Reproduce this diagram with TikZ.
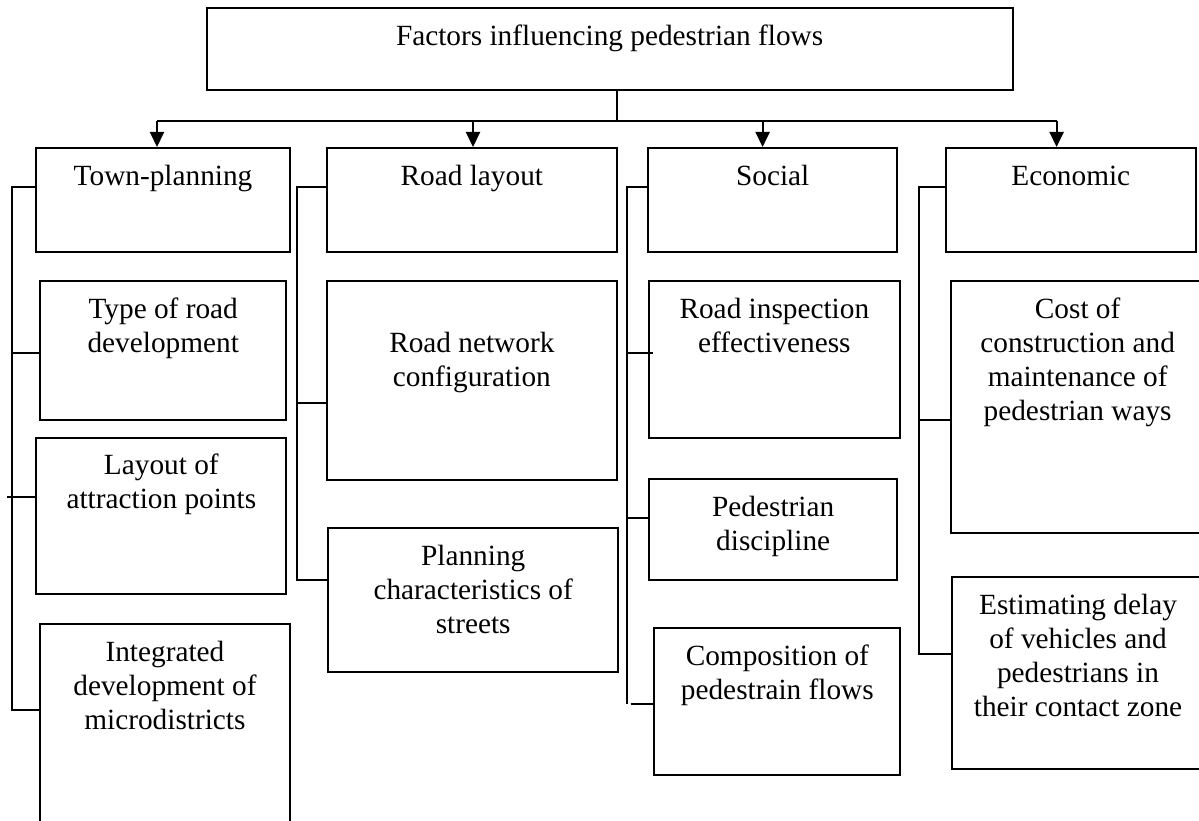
\documentclass[tikz,border=0pt]{standalone}
\usepackage{fontspec}
\setmainfont{Liberation Serif}
\usetikzlibrary{arrows.meta,fit}
\tikzset{
  boxst/.style={draw, line width=2pt, inner sep=0pt, rectangle},
  txt/.style={font=\fontsize{29.3}{34}\selectfont, align=center, inner sep=0pt, anchor=north},
  conn/.style={line width=2pt},
  arr/.style={line width=2pt, -{Triangle[length=15pt,width=14pt]}},
}
\newcommand{\kbox}[6]{%
  \node[boxst, fit={(#2,#3) (#4,#5)}] (#1) {};
  \node[txt] (#1-t) at ([yshift=-14.2pt]#1.north) {\strut #6};
}
\begin{document}
\begin{tikzpicture}[x=1pt,y=-1pt]
\useasboundingbox (0,0) rectangle (1199,821);
% title
\kbox{top}{206.7}{8.3}{1012.5}{90}{Factors influencing pedestrian flows}
% row 1
\kbox{tp}{36.4}{148}{289.7}{252}{Town-planning}
\kbox{rl}{327.2}{148}{616.5}{252}{Road layout}
\kbox{so}{648}{148}{897.4}{252}{Social}
\kbox{ec}{945.6}{148}{1196}{252}{Economic}
% town-planning column
\kbox{t1}{40.2}{281}{286.3}{419.8}{Type of road\\development}
\kbox{t2}{36.4}{437.7}{286.3}{594}{Layout of\\attraction points}
\kbox{t3}{40.2}{624}{289.7}{845}{Integrated\\development of\\microdistricts}
% road layout column
\kbox{r1}{327.2}{281}{616.5}{480}{\\Road network\\configuration}
\kbox{r2}{328.4}{528.4}{618}{671.6}{Planning\\characteristics of\\streets}
% social column
\kbox{s1}{649}{281}{899.7}{437.7}{Road inspection\\effectiveness}
\kbox{s2}{649}{479.4}{897.4}{580.2}{Pedestrian\\discipline}
\kbox{s3}{654.3}{627.8}{900.4}{775.2}{Composition of\\pedestrain flows}
% economic column
\kbox{e1}{951.3}{281}{1204}{533}{Cost of\\construction and\\maintenance of\\pedestrian ways}
\kbox{e2}{952}{577.4}{1204}{769.3}{Estimating delay\\of vehicles and\\pedestrians in\\their contact zone}

% top distribution
\coordinate (stem) at (616.5,121);
\coordinate (bA) at (157,121);
\coordinate (bB) at (473,121);
\coordinate (bC) at (762.6,121);
\coordinate (bD) at (1056.6,121);
\draw[conn] (stem |- top.south) -- (stem);
\draw[conn] (bA) -- (bD);
\draw[arr] (bA) -- (bA |- tp.north);
\draw[arr] (bB) -- (bB |- rl.north);
\draw[arr] (bC) -- (bC |- so.north);
\draw[arr] (bD) -- (bD |- ec.north);

% town-planning bracket
\coordinate (tv) at (11.5,187);
\coordinate (tj1) at (11.5,352.5);
\coordinate (tj2) at (6.9,497.4);
\coordinate (tv2) at (11.5,709.6);
\draw[conn] (tp.west |- tv) -- (tv) -- (tv2) -- (tv2 -| t3.west);
\draw[conn] (tj1) -- (tj1 -| t1.west);
\draw[conn] (tj2) -- (tj2 -| t2.west);

% road layout bracket
\coordinate (rv) at (297.4,187);
\coordinate (rj1) at (297.4,403);
\coordinate (rv2) at (297.4,580.2);
\draw[conn] (rl.west |- rv) -- (rv) -- (rv2) -- (rv2 -| r2.west);
\draw[conn] (rj1) -- (rj1 -| r1.west);

% social bracket
\coordinate (sv) at (626.8,187);
\coordinate (sj1) at (626.8,352.5);
\coordinate (sj2) at (626.8,518);
\coordinate (sv2) at (626.8,704.4);
\coordinate (sj3) at (630.6,704.4);
\draw[conn] (so.west |- sv) -- (sv) -- (sv2);
\draw[conn] (sj1) -- ([xshift=4.6pt]sj1 -| s1.west);
\draw[conn] (sj2) -- (sj2 -| s2.west);
\draw[conn] (sj3) -- (sj3 -| s3.west);

% economic bracket
\coordinate (ev) at (918.8,187);
\coordinate (ej1) at (918.8,419.8);
\coordinate (ev2) at (918.8,654.4);
\draw[conn] (ec.west |- ev) -- (ev) -- (ev2) -- (ev2 -| e2.west);
\draw[conn] (ej1) -- (ej1 -| e1.west);
\end{tikzpicture}
\end{document}
